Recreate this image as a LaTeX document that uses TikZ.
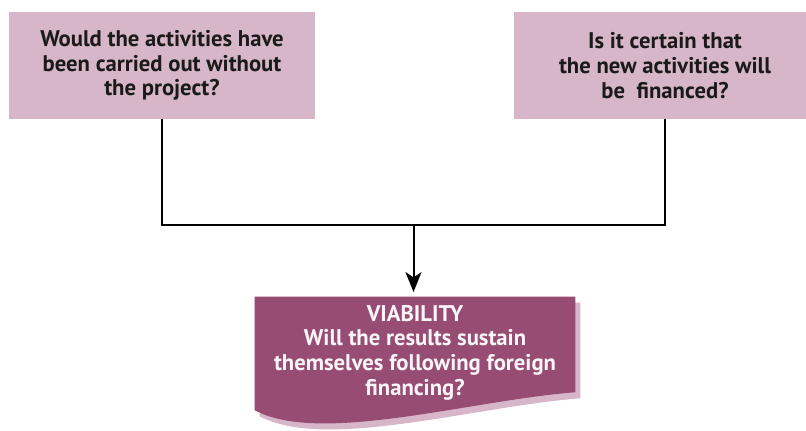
\documentclass[tikz,border=0pt]{standalone}
\usepackage{fontspec}
\setmainfont{PT Sans}
\usetikzlibrary{positioning,arrows.meta,calc,backgrounds}
\definecolor{ink}{HTML}{1A1A1A}
\definecolor{qfill}{HTML}{D6B6C8}
\definecolor{vfill}{HTML}{974C73}
\definecolor{vtext}{HTML}{FAF5F8}

\begin{document}
\begin{tikzpicture}[
    x=0.75pt, y=0.75pt,
    font=\fontsize{17}{18.5}\selectfont\bfseries, text=ink,
    >={Stealth[length=15pt,width=12pt,inset=4pt]},
    qbox/.style={fill=qfill, align=center, minimum width=#1, minimum height=80.25pt, inner sep=0pt},
    vbox/.style={minimum width=240pt, minimum height=71.25pt, inner sep=0pt},
    vtxt/.style={align=center, text=vtext, inner sep=0pt},
    link/.style={line width=1.5pt, draw=black},
    arr/.style={link, ->, shorten >=3.5pt},
  ]
  \useasboundingbox (0,0) rectangle (806,430);
  \clip (0,0) rectangle (806,430);

  % ---- the two questions
  \node[qbox=229.5pt] (ask1) at (162,364.5) {Would the activities have\\ been carried out without\\ the project?};
  \node[qbox=226.5pt] (ask2) at (665,364.5) {Is it certain that\\ the new activities will\\ be~ financed?};

  % ---- viability, a page with a wavy lower edge and a shadow
  \node[vbox] (via) at (415,85.5) {};
  \node[vtxt] (viatxt) at ($(via.center)+(0,-8)$) {VIABILITY\\ Will the results sustain\\ themselves following foreign\\ financing?};
  \begin{scope}[on background layer]
    \fill[qfill, transform canvas={xshift=3.75pt, yshift=-4.5pt}]
      (via.north west) -- (via.north east) -- (via.south east)
      .. controls ($(via.south east)+(-105,-8)$) and ($(via.south west)+(65,-53)$) .. ($(via.south west)+(0,-18)$) -- cycle;
    \fill[vfill]
      (via.north west) -- (via.north east) -- (via.south east)
      .. controls ($(via.south east)+(-105,-8)$) and ($(via.south west)+(65,-53)$) .. ($(via.south west)+(0,-18)$) -- cycle;
  \end{scope}

  % ---- both questions lead to viability
  \coordinate (join) at ($(ask1.south)!0.5!(ask2.south)+(0,-106)$);
  \draw[link] (ask1.south) |- (join) -| (ask2.south);
  \draw[arr] (join) -- (join |- via.north);
\end{tikzpicture}
\end{document}
